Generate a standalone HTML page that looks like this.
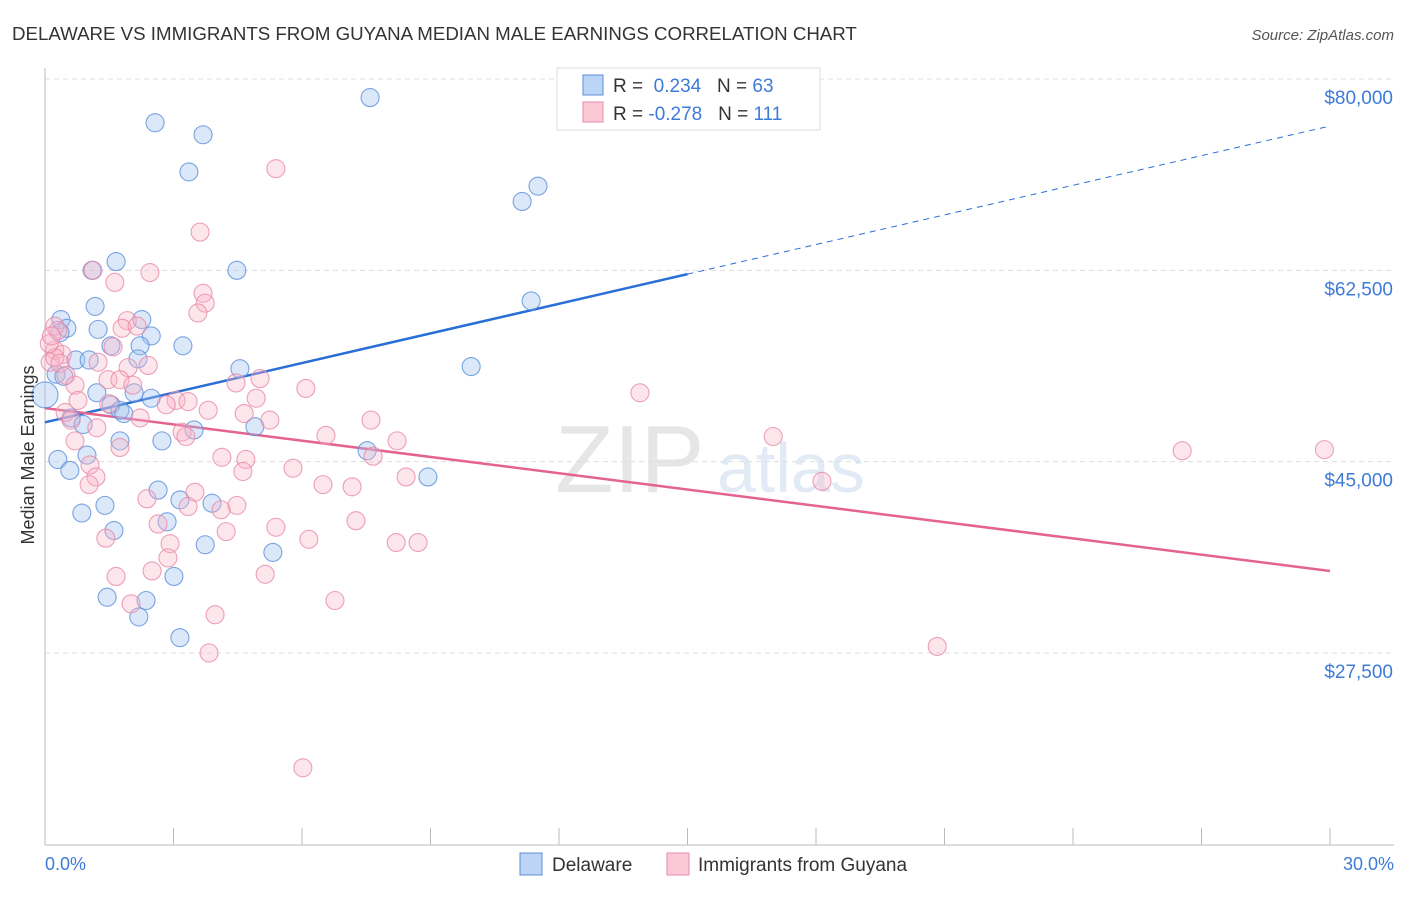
<!DOCTYPE html>
<html><head><meta charset="utf-8"><style>
body{margin:0;background:#fff;font-family:"Liberation Sans",sans-serif;}
svg text{font-family:"Liberation Sans",sans-serif;}
</style></head><body>
<svg id="chart" width="1406" height="892" viewBox="0 0 1406 892">
<text x="12" y="40" font-size="18.7" fill="#333">DELAWARE VS IMMIGRANTS FROM GUYANA MEDIAN MALE EARNINGS CORRELATION CHART</text>
<text x="1394" y="40" font-size="15" fill="#555" font-style="italic" text-anchor="end">Source: ZipAtlas.com</text>
<text x="555" y="492" font-size="96" fill="#e6e6e6" font-family="Liberation Serif">ZIP</text>
<text x="717" y="492" font-size="70" fill="#e2eaf5">atlas</text>
<g id="grid"></g>
<g id="axes"></g>
<g id="lines"></g>
<g id="pts"></g>
<text transform="translate(34,455) rotate(-90)" font-size="18" fill="#333" text-anchor="middle">Median Male Earnings</text>
<text x="45" y="870" font-size="18" fill="#3d7bd8">0.0%</text>
<text x="1394" y="870" font-size="18" fill="#3d7bd8" text-anchor="end">30.0%</text>
<g>
<rect x="557" y="68" width="263" height="62" fill="#fff" stroke="#ddd"/>
<rect x="583" y="75" width="20" height="20" fill="#bcd4f5" stroke="#5b8fd9"/>
<rect x="583" y="102" width="20" height="20" fill="#fbc9d6" stroke="#e88aa8"/>
<text x="613" y="92" font-size="19" fill="#333">R = <tspan fill="#3d7bd8">&#160;0.234</tspan>&#160;&#160;&#160;N = <tspan fill="#3d7bd8">63</tspan></text>
<text x="613" y="120" font-size="19" fill="#333">R = <tspan fill="#3d7bd8">-0.278</tspan>&#160;&#160;&#160;N = <tspan fill="#3d7bd8">111</tspan></text>
</g>
<g>
<rect x="520" y="853" width="22" height="22" fill="#bcd4f5" stroke="#5b8fd9"/>
<text x="552" y="871" font-size="19" fill="#333">Delaware</text>
<rect x="667" y="853" width="22" height="22" fill="#fbc9d6" stroke="#e88aa8"/>
<text x="698" y="871" font-size="19" fill="#333">Immigrants from Guyana</text>
</g>
</svg>
<script>
const yTicks=[80000,62500,45000,27500];
const yTickLabels=["$80,000","$62,500","$45,000","$27,500"];
const xTicks=[0,3,6,9,12,15,18,21,24,27,30];
const blueX=[7.59,2.57,3.69,3.36,11.51,11.14,1.66,1.10,4.48,11.35,1.17,0.37,2.26,0.51,1.24,0.35,2.48,3.22,1.54,2.22,0.72,1.03,2.17,4.55,9.95,0.26,0.44,0,1.21,2.08,2.48,1.54,1.75,1.84,0.61,0.89,3.48,4.90,2.73,1.75,0.30,0.98,7.52,8.94,0.58,2.64,3.15,3.90,0.86,1.40,2.85,1.61,3.74,5.32,3.01,1.45,2.36,2.19,3.15];
const blueY=[78.3,76.0,74.9,71.5,70.2,68.8,63.3,62.5,62.5,59.7,59.2,58.0,58.0,57.2,57.1,56.8,56.5,55.6,55.6,55.6,54.3,54.3,54.4,53.5,53.7,53.0,52.8,51.1,51.3,51.3,50.8,50.2,49.7,49.4,49.0,48.4,47.9,48.2,46.9,46.9,45.2,45.6,46.0,43.6,44.2,42.4,41.5,41.2,40.3,41.0,39.5,38.7,37.4,36.7,34.5,32.6,32.3,30.8,28.9];
const pinkX=[5.39,3.62,2.45,1.12,1.63,3.69,3.74,3.57,0.23,0.30,1.92,1.80,2.15,1.59,0.23,0.40,0.12,0.23,0.35,1.24,2.41,1.94,0.49,1.47,1.75,5.02,4.46,0.70,2.05,6.09,13.89,4.93,0.77,1.49,3.06,3.34,2.83,3.81,4.65,0.47,2.22,5.25,7.61,0.61,1.21,3.20,3.29,6.56,8.22,17.0,0.70,1.75,4.13,4.69,7.66,26.55,29.87,1.05,1.19,5.79,4.62,8.43,18.14,6.49,7.17,1.03,3.50,2.38,4.48,3.34,4.11,7.26,2.64,5.39,4.23,1.42,6.16,2.92,8.20,8.71,2.87,1.66,2.50,5.14,2.01,6.77,3.97,3.83,20.83,6.02,0.1,0.15];
const pinkY=[71.8,66.0,62.3,62.5,61.4,60.4,59.5,58.6,57.4,57.0,57.9,57.2,57.4,55.5,55.2,54.8,54.1,54.5,54.0,54.1,53.8,53.6,52.9,52.5,52.5,52.6,52.2,52.0,52.0,51.7,51.3,50.8,50.6,50.3,50.6,50.5,50.2,49.7,49.4,49.5,49.0,48.8,48.8,48.8,48.1,47.7,47.3,47.4,46.9,47.3,46.9,46.3,45.4,45.2,45.5,46.0,46.1,44.7,43.6,44.4,44.1,43.6,43.2,42.9,42.7,42.9,42.2,41.6,41.0,40.9,40.6,39.6,39.3,39.0,38.6,38.0,37.9,37.5,37.6,37.6,36.2,34.5,35.0,34.7,32.0,32.3,31.0,27.5,28.1,17.0,55.8,56.5];
const blueFit=[48.6,75.7];
const pinkFit=[49.9,35.0];
const NS="http://www.w3.org/2000/svg";
function sx(p){return 45+p*42.833;}
function sy(k){return 79+(80-k)*10.933;}
function mk(tag,attrs,parent){const e=document.createElementNS(NS,tag);for(const k in attrs)e.setAttribute(k,attrs[k]);parent.appendChild(e);return e;}
const grid=document.getElementById('grid'),axes=document.getElementById('axes'),lines=document.getElementById('lines'),pts=document.getElementById('pts');
yTicks.forEach((v,i)=>{
 const y=sy(v/1000);
 const l=mk('line',{x1:45,x2:1394,y1:y,y2:y,stroke:'#ddd','stroke-dasharray':'5,4'},grid);
 
 
 const t=mk('text',{x:1393,y:y+25,'font-size':19,fill:'#3d7bd8','text-anchor':'end'},grid);
 t.textContent=yTickLabels[i];
 
 
});
const ya=mk('line',{x1:45,x2:45,y1:68,y2:845,stroke:'#bbb'},axes);


const xa=mk('line',{x1:45,x2:1394,y1:845,y2:845,stroke:'#bbb'},axes);


xTicks.forEach(p=>{
 const t=mk('line',{x1:sx(p),x2:sx(p),y1:828,y2:845,stroke:'#bbb'},axes);
 
 
});
function drawPts(X,Y,fill,stroke,name){
 X.forEach((x,i)=>{
  const c=mk('circle',{cx:sx(x),cy:sy(Y[i]),r:(x===0?13:9),fill:fill,stroke:stroke,'stroke-width':1.1,'stroke-opacity':0.8},pts);
  
  
 });
}
drawPts(blueX,blueY,'rgba(160,195,240,0.38)','#5b8fd9','delaware-point');
drawPts(pinkX,pinkY,'rgba(248,180,200,0.35)','#e88aa8','guyana-point');
const bs=blueFit[0]+(blueFit[1]-blueFit[0])*0.5;
const b1=mk('line',{x1:sx(0),y1:sy(blueFit[0]),x2:sx(15),y2:sy(bs),stroke:'#2a6fd6','stroke-width':2.5},lines);


const b2=mk('line',{x1:sx(15),y1:sy(bs),x2:sx(30),y2:sy(blueFit[1]),stroke:'#2a6fd6','stroke-width':1,'stroke-dasharray':'6,5'},lines);


const p1=mk('line',{x1:sx(0),y1:sy(pinkFit[0]),x2:sx(30),y2:sy(pinkFit[1]),stroke:'#e4638f','stroke-width':2.5},lines);


</script>
</body></html>
